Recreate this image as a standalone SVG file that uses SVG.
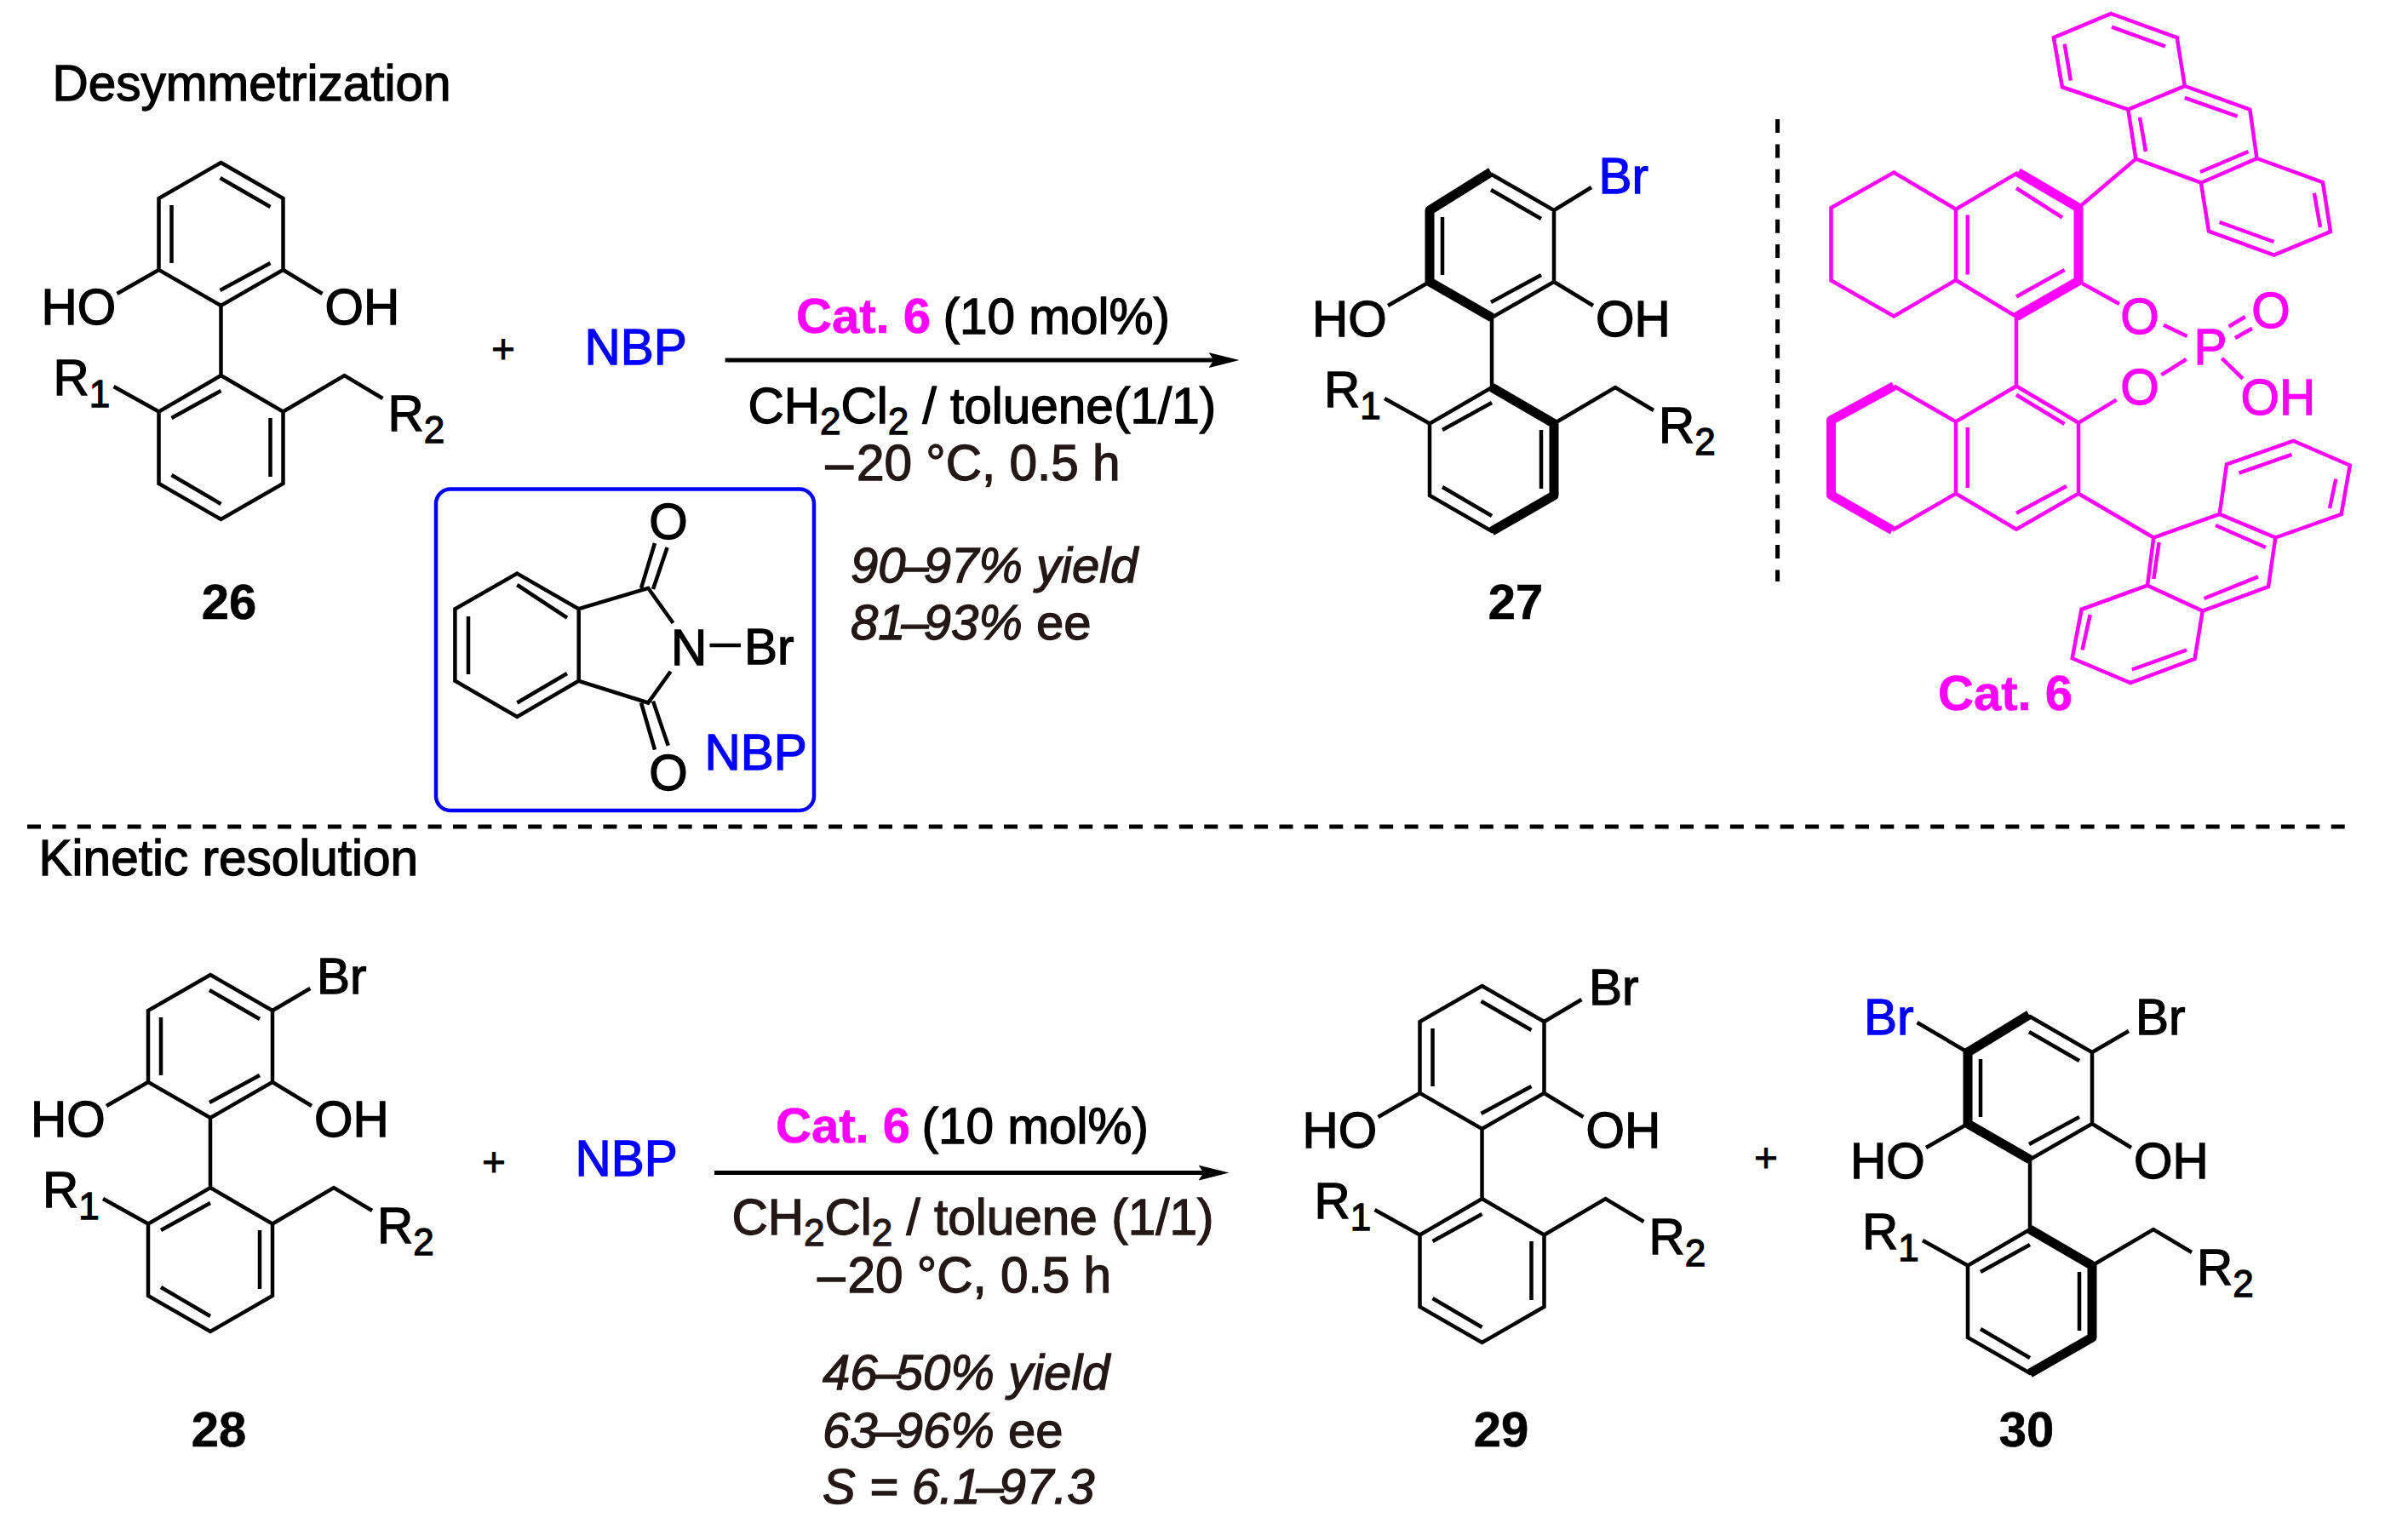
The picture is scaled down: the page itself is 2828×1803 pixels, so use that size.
<svg xmlns="http://www.w3.org/2000/svg" width="2828" height="1803" viewBox="0 0 2828 1803">
<style>
text{font-family:"Liberation Sans",Arial,sans-serif;font-size:58.5px;fill:#000;stroke:#000;stroke-width:1.3}
.sub{font-size:44px}
.blue{fill:#0000ff;stroke:#0000ff}
.mag{fill:#ff00ff;stroke:#ff00ff}
.bold{font-weight:bold;font-size:58px;stroke-width:.6}
.dark{fill:#231815;stroke:#231815}
.it{font-style:italic;font-size:58px;fill:#231815;stroke:#231815}
.up{font-style:normal}
.mid{text-anchor:middle}
.plus{font-size:48px;stroke-width:.8}
.bond{fill:none;stroke:#000;stroke-width:4.5;stroke-linejoin:miter;stroke-linecap:butt}
.heavy{fill:none;stroke:#000;stroke-width:11;stroke-linejoin:round;stroke-linecap:butt}
.mbond{fill:none;stroke:#ff00ff;stroke-width:4.5;stroke-linejoin:miter}
.mheavy{fill:none;stroke:#ff00ff;stroke-width:11;stroke-linejoin:round}
.dash{fill:none;stroke:#000;stroke-width:5;stroke-dasharray:16 13.41}
.arrow{fill:none;stroke:#000;stroke-width:5;marker-end:url(#head)}
</style>
<defs>
<marker id="head" markerUnits="userSpaceOnUse" markerWidth="40" markerHeight="24" refX="25.5" refY="12" orient="auto"><path d="M0,3 L36,12 L0,21 L6,12 Z" fill="#000"/></marker>
<path id="biaryl" class="bond" d="M0,-168 L73,-126 V-42 L0,0 L-73,-42 V-126 Z M0,0 V82 M0,82 L73,124.5 V209 L0,251 L-73,209 V124.5 Z M73,124.5 L145,82 L190,109 M-73,124.5 L-126,95 M-73,-42 L-122,-14 M73,-42 L119,-14 M-58,-118 V-50 M-1,-150 L58,-116 M-1,-18 L58,-50 M-58,132 L0,100 M58,132 V201 M-58,199 L0,233"/>
<g id="labels">
<text x="-211" y="21.5">HO</text>
<text x="122" y="21.5">OH</text>
<text x="-197" y="104.5">R<tspan class="sub" dy="14">1</tspan></text>
<text x="196" y="146.5">R<tspan class="sub" dy="14">2</tspan></text>
</g>
</defs>
<g id="titles">
<text x="61.5" y="117.5">Desymmetrization</text>
<text x="45.6" y="1028">Kinetic resolution</text>
</g>
<g id="connectors">
<path class="arrow" d="M851.6,423 H1445"/>
<path class="arrow" d="M839,1377.5 H1433"/>
<path class="dash" d="M2087.6,140 V683"/>
<path class="dash" d="M32,971 H2754"/>
</g>
<g id="cmpd-26" transform="translate(259.5,359)">
<use href="#biaryl"/><use href="#labels"/>
<text class="bold mid" x="9.5" y="368">26</text>
</g>
<g id="plus-1"><text class="mid plus" x="591" y="426">+</text></g>
<g id="nbp-1"><text class="blue" x="686.5" y="427.5">NBP</text></g>
<g id="conditions-1">
<text x="935" y="390.5" class="mag bold">Cat. 6</text>
<text x="1107.5" y="391.5">(10 mol%)</text>
<text x="878.5" y="497">CH<tspan class="sub" dy="13">2</tspan><tspan dy="-13">Cl</tspan><tspan class="sub" dy="13">2</tspan><tspan dy="-13"> / toluene(1/1)</tspan></text>
<text x="969.4" y="564" dx="0 4" class="dark">–20 °C, 0.5 h</text>
<text x="999" y="684" dx="0 0 -5 -6" class="it">90–97% yield</text>
<text x="999" y="751" dx="0 0 -5 -6" class="it">81–93% <tspan class="up">ee</tspan></text>
</g>
<g id="nbp-box">
<rect x="512" y="574.6" width="444" height="377.4" rx="17" fill="none" stroke="#0000ff" stroke-width="4.5"/>
<path class="bond" d="M607.3,673.6 L679.7,715.2 V799.8 L607.3,842 L534.4,799.8 V715.2 Z M607.3,687 L666,725.7 M550,724 V792 M607.3,825.5 L666,791 M679.7,715.2 L761.2,690.8 L790.5,731.8 M679.7,799.8 L761.2,825.5 L787.6,788.7 M753,690.8 L769,638 M767,692 L783.6,643 M753,825.5 L769,880.6 M767,823.6 L784.7,875.7 M833.5,758 H870"/>
<text class="mid" x="785" y="632.5">O</text>
<text class="mid" x="785" y="928">O</text>
<text x="788" y="781">N</text>
<text x="874" y="779.6">Br</text>
<text class="blue" x="827.5" y="904">NBP</text>
</g>
<g id="cmpd-27" transform="translate(1752,373)">
<use href="#biaryl"/><use href="#labels"/>
<path class="heavy" d="M-1,-171 L-73,-126 V-42 L0,0 M0,82 L73,124.5 V209 L0,251"/>
<path class="bond" d="M73,-126 L117,-153"/>
<text class="blue" x="125.5" y="-146.5">Br</text>
<text class="bold mid" x="28" y="354">27</text>
</g>
<g id="catalyst-6">
<path class="mbond" d="M2479.2,16 L2556.7,44.2 L2565.8,101 L2499.3,128.6 L2421.9,102.2 L2411.9,44.2 Z M2565.8,101 L2642.3,128.6 L2650.5,186 L2584.9,214.7 L2508.4,186.6 L2499.3,128.6 M2584.9,214.7 L2594,271.5 L2670.5,299.7 L2737,272 L2727.9,214.1 L2650.5,186 M2480,31.6 L2543,54.5 M2424.6,51.7 L2431.9,94.7 M2513,137.8 L2520,178 M2565.8,114.8 L2627.7,136.6 M2584,202 L2640.5,178 M2717.8,226.7 L2725,267 M2606.7,261 L2670.5,284"/>
<path class="mbond" d="M2297,245.7 L2224.2,202.6 L2150.5,244 V329.5 L2224.2,371.4 L2297,329 V245.7 L2370,202.6 M2441,330 L2368,372 L2297,329 M2310.8,252.6 V322.6 M2368,221 L2422,255.5 M2368,348.5 L2424.6,317 M2441,244 L2508.4,186.6 M2368,372 V453.5 M2445.6,333 L2489,357 M2541,381.7 L2568.5,395 M2617.7,383.5 L2636.8,372 M2625,397 L2645,385.8 M2609.5,420.8 L2634,444.9 M2538.4,440.3 L2567.6,422 M2485.6,469.6 L2441,496.6"/>
<path class="mheavy" d="M2370,202.6 L2441,244 V330 L2368,372"/>
<path class="mbond" d="M2368,453.5 L2441,496.6 V579.8 L2368,621.7 L2297,579.8 V495.4 L2368,453.5 M2297,495.4 L2224.2,453.5 M2297,579.8 L2222.4,622.8 M2368,463.8 L2424.6,498 M2368,602.8 L2427,571 M2310.8,502 V573 M2441,579.8 L2529.3,631.5"/>
<path class="mheavy" d="M2224.2,453.5 L2150.5,493.7 V581.5 L2222.4,622.8"/>
<path class="mbond" d="M2529.3,631.5 L2606.7,604 L2672.3,631.5 L2664,689 L2586.7,717.6 L2522,687.7 Z M2606.7,604 L2615,545.3 L2693.3,517.8 L2759.8,546.5 L2749.7,604 L2672.3,631.5 M2586.7,717.6 L2577.6,773.8 L2502,802 L2433.7,773.2 L2444.6,715.8 L2522,687.7 M2535.7,637 L2529.3,680 M2602,617 L2661,643 M2588.5,703 L2652,677.4 M2629.5,555.7 L2691.5,533.9 M2743.3,562.6 L2736,597 M2568,763.5 L2503.8,786.5 M2445.5,763.5 L2454.7,722"/>
<text class="mag mid" x="2513" y="391.5">O</text>
<text class="mag" x="2576.5" y="427.7">P</text>
<text class="mag mid" x="2667" y="384.6">O</text>
<text class="mag" x="2631.5" y="486.8">OH</text>
<text class="mag mid" x="2513" y="475.3">O</text>
<text class="mag bold" x="2276" y="834">Cat. 6</text>
</g>
<g id="cmpd-28" transform="translate(247,1313)">
<use href="#biaryl"/><use href="#labels"/>
<path class="bond" d="M73,-126 L117.3,-152"/>
<text x="125" y="-146">Br</text>
<text class="bold mid" x="10" y="386">28</text>
</g>
<g id="plus-2"><text class="mid plus" x="580" y="1380.5">+</text></g>
<g id="nbp-2"><text class="blue" x="675.5" y="1380.5">NBP</text></g>
<g id="conditions-2">
<text x="911" y="1342" class="mag bold">Cat. 6</text>
<text x="1082.5" y="1342.7">(10 mol%)</text>
<text x="859.5" y="1450" class="dark">CH<tspan class="sub" dy="13">2</tspan><tspan dy="-13">Cl</tspan><tspan class="sub" dy="13">2</tspan><tspan dy="-13"> / toluene (1/1)</tspan></text>
<text x="960" y="1518" dx="0 3" class="dark">–20 °C, 0.5 h</text>
<text x="966" y="1632" dx="0 0 -5 -6" class="it">46–50% yield</text>
<text x="966" y="1699.5" dx="0 0 -5 -6" class="it">63–96% <tspan class="up">ee</tspan></text>
<text x="966" y="1766" dx="0 0 0 0 0 0 0 -5 -6" class="it">S = 6.1–97.3</text>
</g>
<g id="cmpd-29" transform="translate(1740.5,1326)">
<use href="#biaryl"/><use href="#labels"/>
<path class="bond" d="M73,-126 L117,-152"/>
<text x="125.5" y="-146">Br</text>
<text class="bold mid" x="22.5" y="373">29</text>
</g>
<g id="plus-3"><text class="mid plus" x="2074" y="1376">+</text></g>
<g id="cmpd-30" transform="translate(2384,1362)">
<use href="#biaryl"/><use href="#labels"/>
<path class="heavy" d="M-1,-170 L-73,-126 V-42 L0,0 M0,82 L73,124.5 V209 L0,251"/>
<path class="bond" d="M-73,-126 L-132.5,-161 M73,-126 L116,-151"/>
<text class="blue" x="-195" y="-147">Br</text>
<text x="124" y="-147.5">Br</text>
<text class="bold mid" x="-4" y="337">30</text>
</g>
</svg>
